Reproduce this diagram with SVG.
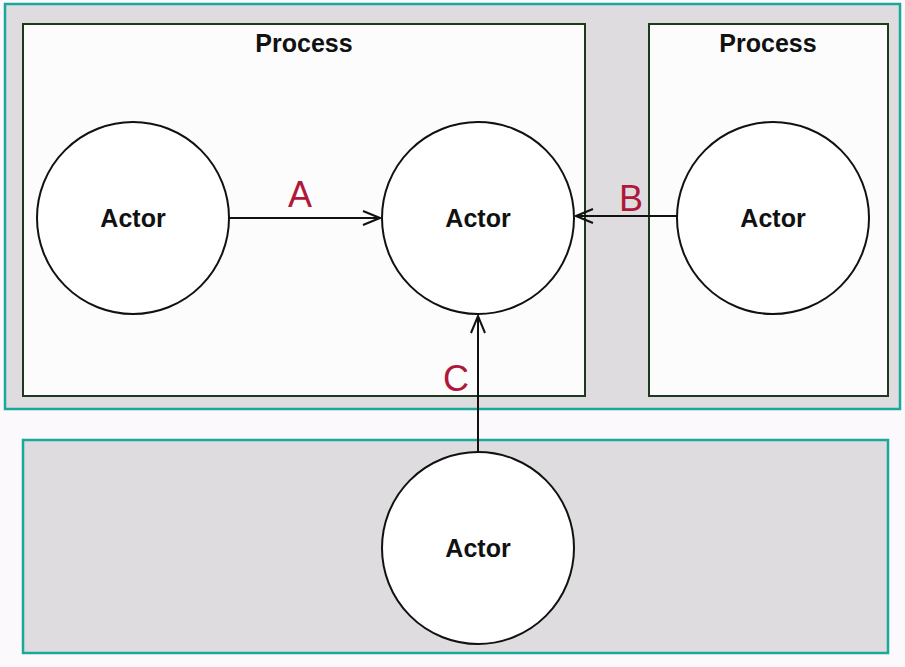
<svg xmlns="http://www.w3.org/2000/svg" width="905" height="667" viewBox="0 0 905 667">
<defs>
<style>
.cont{fill:#dedcde;stroke:#1aa89a;stroke-width:2.5}
.proc{fill:#fdfcfd;stroke:#1c3a1c;stroke-width:2}
.actor{fill:#ffffff;stroke:#111;stroke-width:2}
.lbl{font-family:"Liberation Sans",Arial,sans-serif;font-weight:bold;font-size:25px;fill:#111;text-anchor:middle}
.edge{stroke:#111;stroke-width:2;fill:none}
.el{font-family:"Liberation Sans",Arial,sans-serif;font-size:36px;fill:#b0183a;text-anchor:middle}
</style>
<marker id="arr" viewBox="0 0 20 20" refX="19" refY="10" markerWidth="20" markerHeight="20" markerUnits="userSpaceOnUse" orient="auto">
<path d="M2,3 L19,10 L2,17" fill="none" stroke="#111" stroke-width="2"/>
</marker>
</defs>
<rect width="905" height="667" fill="#fbf9fb"/>
<g id="container-top"><rect class="cont" x="5" y="4" width="895" height="405"/></g>
<g id="container-bottom"><rect class="cont" x="23" y="440" width="865" height="213"/></g>
<g id="process-left"><rect class="proc" x="23" y="24" width="562" height="372"/><text class="lbl" x="304" y="52">Process</text></g>
<g id="process-right"><rect class="proc" x="649" y="24" width="239" height="372"/><text class="lbl" x="768" y="52">Process</text></g>
<g id="connectors">
<line class="edge" x1="229" y1="218" x2="380" y2="218" marker-end="url(#arr)"/>
<line class="edge" x1="677" y1="216" x2="576" y2="216" marker-end="url(#arr)"/>
<line class="edge" x1="478" y1="452" x2="478" y2="316" marker-end="url(#arr)"/>
<text class="el" x="300" y="207">A</text>
<text class="el" x="631" y="211">B</text>
<text class="el" x="456" y="391">C</text>
</g>
<g id="actor1"><circle class="actor" cx="133" cy="218" r="96"/><text class="lbl" x="133" y="227">Actor</text></g>
<g id="actor2"><circle class="actor" cx="478" cy="218" r="96"/><text class="lbl" x="478" y="227">Actor</text></g>
<g id="actor3"><circle class="actor" cx="773" cy="218" r="96"/><text class="lbl" x="773" y="227">Actor</text></g>
<g id="actor4"><circle class="actor" cx="478" cy="548" r="96"/><text class="lbl" x="478" y="557">Actor</text></g>
</svg>
